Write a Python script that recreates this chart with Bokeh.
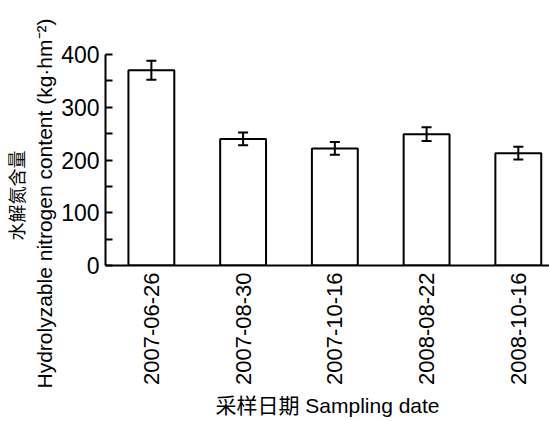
from bokeh.plotting import figure
from bokeh.models import FixedTicker, Title, ColumnDataSource, Whisker, TeeHead, Range1d
from bokeh.embed import file_html
from bokeh.resources import INLINE
import math

dates = ["2007-06-26", "2007-08-30", "2007-10-16", "2008-08-22", "2008-10-16"]
values = [370, 240, 222, 249, 213]
errors = [18, 12, 12, 13, 12]

FONT = "'Liberation Sans', 'Noto Sans CJK SC', sans-serif"

xs = list(range(1, len(dates) + 1))
src = ColumnDataSource(dict(
    x=xs, top=values,
    upper=[v + e for v, e in zip(values, errors)],
    lower=[v - e for v, e in zip(values, errors)],
))

p = figure(width=549, height=421, output_backend="svg", toolbar_location=None,
           x_range=Range1d(0.5, 5.34), y_range=Range1d(0, 400),
           min_border_left=104, min_border_right=0, min_border_top=54, min_border_bottom=156)
p.outline_line_color = None
p.grid.visible = False
p.background_fill_color = "white"

p.vbar(x="x", top="top", width=0.5, source=src, fill_color="white",
       line_color="black", line_width=2)

w = Whisker(base="x", upper="upper", lower="lower", source=src,
            line_color="black", line_width=2, level="overlay",
            upper_head=TeeHead(size=10, line_width=2, line_color="black"),
            lower_head=TeeHead(size=10, line_width=2, line_color="black"))
p.add_layout(w)

xa = p.xaxis[0]
xa.ticker = FixedTicker(ticks=xs)
xa.major_label_overrides = {i: d for i, d in zip(xs, dates)}
xa.major_label_orientation = math.pi / 2
xa.major_tick_in = 0
xa.major_tick_out = 0
xa.minor_tick_in = 0
xa.minor_tick_out = 0
xa.axis_line_width = 2
xa.major_label_text_font = FONT
xa.major_label_text_font_size = "22px"
xa.major_label_text_color = "black"
xa.major_label_standoff = 7
xa.axis_label = "采样日期 Sampling date"
xa.axis_label_text_font = FONT
xa.axis_label_text_font_size = "21px"
xa.axis_label_text_font_style = "normal"
xa.axis_label_text_color = "black"
xa.axis_label_standoff = 6

ya = p.yaxis[0]
ya.ticker = FixedTicker(ticks=[0, 100, 200, 300, 400], minor_ticks=[50, 150, 250, 350])
ya.major_tick_in = 7
ya.major_tick_out = 0
ya.minor_tick_in = 7
ya.minor_tick_out = 0
ya.major_tick_line_width = 2
ya.minor_tick_line_width = 2
ya.axis_line_width = 2
ya.major_label_text_font = FONT
ya.major_label_text_font_size = "23px"
ya.major_label_text_color = "black"
ya.major_label_standoff = 6

t2 = Title(text="Hydrolyzable nitrogen content (kg·hm⁻²)", align="left", offset=-123,
           text_font=FONT, text_font_size="21px", text_font_style="normal",
           text_color="black", standoff=5)
t1 = Title(text="水解氮含量", align="left", offset=25,
           text_font="'Noto Sans CJK SC', sans-serif", text_font_size="18px",
           text_font_style="normal", text_color="black", standoff=0)
p.add_layout(t2, "left")
p.add_layout(t1, "left")

open("out.html", "w").write(file_html(p, INLINE))
